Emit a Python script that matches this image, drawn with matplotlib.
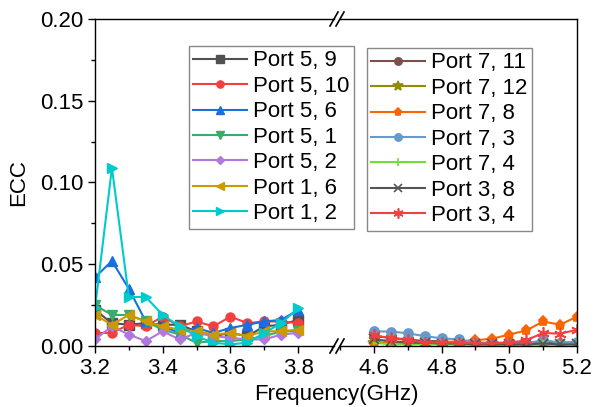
import matplotlib
matplotlib.use("Agg")
import matplotlib.pyplot as plt
from matplotlib.ticker import MultipleLocator, FormatStrFormatter

plt.rcParams["font.family"] = ["Liberation Sans", "DejaVu Sans"]

# frequencies (GHz) for the two segments of the broken axis
freq_low = [3.2, 3.25, 3.3, 3.35, 3.4, 3.45, 3.5, 3.55, 3.6, 3.65, 3.7, 3.75, 3.8]
freq_high = [4.6, 4.65, 4.7, 4.75, 4.8, 4.85, 4.9, 4.95, 5.0, 5.05, 5.1, 5.15, 5.2]

# ECC, lower band
p5_9 = [0.022, 0.014, 0.013, 0.014, 0.013, 0.013, 0.009, 0.006, 0.008, 0.006, 0.012, 0.013, 0.016]
p5_10 = [0.008, 0.008, 0.013, 0.012, 0.018, 0.012, 0.015, 0.012, 0.018, 0.014, 0.015, 0.015, 0.014]
p5_6 = [0.042, 0.052, 0.035, 0.015, 0.012, 0.008, 0.011, 0.008, 0.011, 0.013, 0.015, 0.016, 0.022]
p5_1 = [0.025, 0.019, 0.019, 0.015, 0.010, 0.007, 0.002, 0.003, 0.003, 0.004, 0.006, 0.009, 0.009]
p5_2 = [0.004, 0.012, 0.007, 0.003, 0.009, 0.004, 0.008, 0.006, 0.005, 0.004, 0.004, 0.007, 0.008]
p1_6 = [0.019, 0.013, 0.019, 0.015, 0.012, 0.010, 0.009, 0.007, 0.008, 0.006, 0.009, 0.009, 0.010]
p1_2 = [0.023, 0.109, 0.030, 0.030, 0.019, 0.012, 0.006, 0.002, 0.001, 0.002, 0.008, 0.014, 0.023]

# ECC, upper band
p7_11 = [0.006, 0.005, 0.004, 0.003, 0.003, 0.002, 0.002, 0.002, 0.002, 0.002, 0.002, 0.002, 0.002]
p7_12 = [0.002, 0.002, 0.002, 0.0015, 0.0015, 0.001, 0.001, 0.001, 0.001, 0.001, 0.001, 0.001, 0.001]
p7_8 = [0.002, 0.002, 0.002, 0.002, 0.002, 0.003, 0.0035, 0.0045, 0.007, 0.0095, 0.015, 0.013, 0.018]
p7_3 = [0.009, 0.0088, 0.0078, 0.006, 0.0047, 0.004, 0.002, 0.0015, 0.0015, 0.0015, 0.0037, 0.002, 0.0027]
p7_4 = [0.002, 0.001, 0.001, 0.001, 0.001, 0.001, 0.001, 0.001, 0.001, 0.001, 0.001, 0.001, 0.001]
p3_8 = [0.004, 0.003, 0.002, 0.002, 0.0015, 0.0015, 0.001, 0.001, 0.001, 0.001, 0.0015, 0.001, 0.001]
p3_4 = [0.0067, 0.0047, 0.0037, 0.002, 0.002, 0.002, 0.0015, 0.0015, 0.002, 0.0035, 0.008, 0.0075, 0.010]

low_series = [
    ("Port 5, 9", p5_9, "#515151", "s"),
    ("Port 5, 10", p5_10, "#F14040", "o"),
    ("Port 5, 6", p5_6, "#1A6FDF", "^"),
    ("Port 5, 1", p5_1, "#37AD6B", "v"),
    ("Port 5, 2", p5_2, "#B177DE", "D"),
    ("Port 1, 6", p1_6, "#CC9900", "<"),
    ("Port 1, 2", p1_2, "#00CBCC", ">"),
]
high_series = [
    ("Port 7, 11", p7_11, "#7D4E4E", "o"),
    ("Port 7, 12", p7_12, "#8E8E00", "*"),
    ("Port 7, 8", p7_8, "#FB6501", "p"),
    ("Port 7, 3", p7_3, "#6699CC", "o"),
    ("Port 7, 4", p7_4, "#6FDF35", "|"),
    ("Port 3, 8", p3_8, "#555555", "x"),
    ("Port 3, 4", p3_4, "#F14040", (6, 2, 0)),
]

W, H = 594, 407
fig = plt.figure(figsize=(W / 100, H / 100), dpi=100)
bot, top = 1 - 346 / H, 1 - 19 / H
ax1 = fig.add_axes([95 / W, bot, (334 - 95) / W, top - bot])
ax2 = fig.add_axes([340 / W, bot, (577 - 340) / W, top - bot])

px = 338.5  # pixels per GHz
ax1.set_xlim(3.2, 3.2 + (334 - 95) / px)
ax2.set_xlim(5.2 - (577 - 340) / px, 5.2)

h1, h2 = [], []
for label, vals, color, mk in low_series:
    ms = 5.5 if mk == "D" else 6.5
    (ln,) = ax1.plot(freq_low, vals, color=color, marker=mk, ms=ms, lw=1.5, label=label)
    h1.append(ln)
for label, vals, color, mk in high_series:
    ms = {"*": 9, "x": 7, "|": 7}.get(mk, 6.5)
    if mk == (6, 2, 0):
        ms = 9
    (ln,) = ax2.plot(freq_high, vals, color=color, marker=mk, ms=ms, lw=1.5,
                     mew=1.2, label=label)
    h2.append(ln)

for ax in (ax1, ax2):
    ax.set_ylim(0, 0.20)
    ax.xaxis.set_major_locator(MultipleLocator(0.2))
    ax.xaxis.set_minor_locator(MultipleLocator(0.1))
    ax.xaxis.set_major_formatter(FormatStrFormatter("%.1f"))
    ax.tick_params(which="major", direction="out", length=5, width=1, labelsize=16)
    ax.tick_params(which="minor", direction="out", length=3, width=1)
    for s in ax.spines.values():
        s.set_linewidth(1)

ax1.spines["right"].set_visible(False)
ax2.spines["left"].set_visible(False)
ax2.tick_params(axis="y", which="both", left=False, labelleft=False)
ax1.yaxis.set_major_locator(MultipleLocator(0.05))
ax1.yaxis.set_minor_locator(MultipleLocator(0.025))
ax1.yaxis.set_major_formatter(FormatStrFormatter("%.2f"))
ax1.set_xticks([3.2, 3.4, 3.6, 3.8])
ax2.set_xticks([4.6, 4.8, 5.0, 5.2])

ax1.set_ylabel("ECC", fontsize=16, labelpad=8)
fig.text((95 + 577) / 2 / W, 1 - 400 / H, "Frequency(GHz)", fontsize=16,
         ha="center", va="baseline")

# break marks
dx, dy = 4 / W, 7 / H
for yb in (bot, top):
    for xb in (334 / W, 340 / W):
        fig.add_artist(plt.Line2D([xb - dx, xb + dx], [yb - dy, yb + dy],
                                  color="black", lw=1.2, transform=fig.transFigure))

leg_kw = dict(loc="upper left", fontsize=16, frameon=True, fancybox=False,
              edgecolor="#888888", framealpha=1, handlelength=2.4,
              handletextpad=0.3, labelspacing=0.2, borderpad=0.2,
              borderaxespad=0, markerscale=0.8)
leg1 = fig.legend(handles=h1, bbox_to_anchor=(189 / W, 1 - 46 / H), **leg_kw)
leg2 = fig.legend(handles=h2, bbox_to_anchor=(367 / W, 1 - 48 / H), **leg_kw)
for leg in (leg1, leg2):
    leg.get_frame().set_linewidth(1)

fig.savefig("out.png", dpi=100)
